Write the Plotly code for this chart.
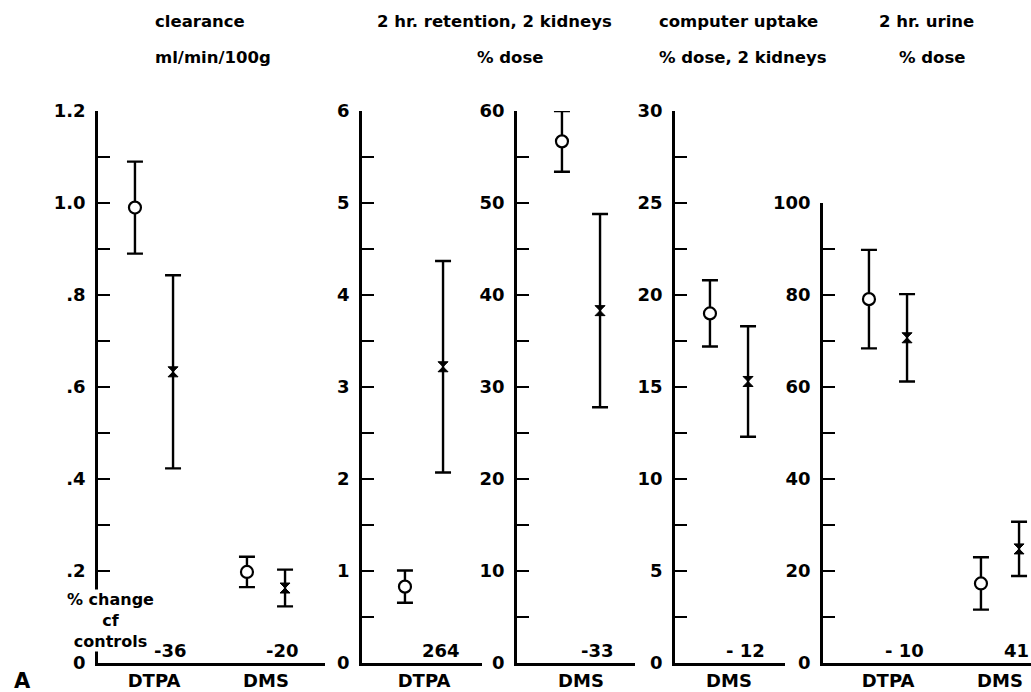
import plotly.graph_objects as go

W, H = 1031, 692

# ---------------- data ----------------
# Panel 1: clearance ml/min/100g
p1_groups = ["DTPA", "DMS"]
p1_ctrl = [0.99, 0.198]
p1_ctrl_err = [0.10, 0.033]
p1_trt = [0.633, 0.163]
p1_trt_err = [0.21, 0.04]
p1_change = ["-36", "-20"]

# Panel 2: 2 hr retention, 2 kidneys (% dose) - DTPA
p2_groups = ["DTPA"]
p2_ctrl = [0.83]
p2_ctrl_err = [0.175]
p2_trt = [3.22]
p2_trt_err = [1.15]
p2_change = ["264"]

# Panel 3: 2 hr retention, 2 kidneys (% dose) - DMS
p3_groups = ["DMS"]
p3_ctrl = [56.7]
p3_ctrl_err = [3.3]
p3_trt = [38.3]
p3_trt_err = [10.5]
p3_change = ["-33"]

# Panel 4: computer uptake, % dose, 2 kidneys - DMS
p4_groups = ["DMS"]
p4_ctrl = [19.0]
p4_ctrl_err = [1.8]
p4_trt = [15.3]
p4_trt_err = [3.0]
p4_change = ["- 12"]

# Panel 5: 2 hr urine % dose
p5_groups = ["DTPA", "DMS"]
p5_ctrl = [79.1, 17.3]
p5_ctrl_err = [10.7, 5.7]
p5_trt = [70.7, 24.8]
p5_trt_err = [9.5, 5.9]
p5_change = ["- 10", "41"]

# y-axis ticks
p1_ticks = [round(i * 0.1, 1) for i in range(13)]
p1_ticklabels = ["0", "", ".2", "", ".4", "", ".6", "", ".8", "", "1.0", "", "1.2"]
p2_ticks = [i * 0.5 for i in range(13)]
p2_ticklabels = ["0", "", "1", "", "2", "", "3", "", "4", "", "5", "", "6"]
p3_ticks = [i * 5 for i in range(13)]
p3_ticklabels = ["0", "", "10", "", "20", "", "30", "", "40", "", "50", "", "60"]
p4_ticks = [i * 2.5 for i in range(13)]
p4_ticklabels = ["0", "", "5", "", "10", "", "15", "", "20", "", "25", "", "30"]
p5_ticks = [i * 10 for i in range(11)]
p5_ticklabels = ["0", "", "20", "", "40", "", "60", "", "80", "", "100"]

# ---------------- layout geometry (pixels) ----------------
UNIT = 112.0   # px per group step
OFF = 0.17     # offset of control / treated marks from group centre
panels = [
    dict(groups=p1_groups, ctrl=p1_ctrl, ce=p1_ctrl_err, trt=p1_trt, te=p1_trt_err, change=p1_change,
         ticks=p1_ticks, labels=p1_ticklabels, yr=[0, 1.2], px=(98, 325), c0=154, top=111),
    dict(groups=p2_groups, ctrl=p2_ctrl, ce=p2_ctrl_err, trt=p2_trt, te=p2_trt_err, change=p2_change,
         ticks=p2_ticks, labels=p2_ticklabels, yr=[0, 6], px=(362, 482), c0=424, top=111),
    dict(groups=p3_groups, ctrl=p3_ctrl, ce=p3_ctrl_err, trt=p3_trt, te=p3_trt_err, change=p3_change,
         ticks=p3_ticks, labels=p3_ticklabels, yr=[0, 60], px=(517, 635), c0=581, top=111),
    dict(groups=p4_groups, ctrl=p4_ctrl, ce=p4_ctrl_err, trt=p4_trt, te=p4_trt_err, change=p4_change,
         ticks=p4_ticks, labels=p4_ticklabels, yr=[0, 30], px=(675, 785), c0=729, top=111),
    dict(groups=p5_groups, ctrl=p5_ctrl, ce=p5_ctrl_err, trt=p5_trt, te=p5_trt_err, change=p5_change,
         ticks=p5_ticks, labels=p5_ticklabels, yr=[0, 100], px=(823, 1031), c0=888, top=203),
]
BOTTOM = 663

FONT = "DejaVu Sans"
fig = go.Figure()
layout = dict(width=W, height=H, margin=dict(l=0, r=0, t=0, b=0, autoexpand=False),
              paper_bgcolor="white", plot_bgcolor="white", showlegend=False,
              font=dict(family=FONT, size=18, color="black", weight="bold"))
annotations = []

for k, p in enumerate(panels, start=1):
    xs = "" if k == 1 else str(k)
    xname, yname = "x" + xs, "y" + xs
    idx = list(range(len(p["groups"])))
    xc = [i - OFF for i in idx]
    xt = [i + OFF for i in idx]
    fig.add_trace(go.Scatter(
        x=xc, y=p["ctrl"], mode="markers", xaxis=xname, yaxis=yname, cliponaxis=False,
        marker=dict(symbol="circle", size=12, color="white", line=dict(color="black", width=2.2)),
        error_y=dict(type="data", array=p["ce"], color="black", thickness=2.4, width=8)))
    fig.add_trace(go.Scatter(
        x=xt, y=p["trt"], mode="markers", xaxis=xname, yaxis=yname, cliponaxis=False,
        marker=dict(symbol="hourglass", size=10, color="black", line=dict(color="black", width=1)),
        error_y=dict(type="data", array=p["te"], color="black", thickness=2.4, width=8)))

    x0, x1 = p["px"]
    xr = [-(p["c0"] - x0) / UNIT, (x1 - p["c0"]) / UNIT]
    layout["xaxis" + xs] = dict(
        domain=[x0 / W, x1 / W], range=xr, anchor=yname,
        showline=True, linecolor="black", linewidth=2.6, ticks="",
        tickvals=idx, ticktext=p["groups"], showgrid=False, zeroline=False,
        ticklabelstandoff=0,
        tickfont=dict(size=18, family=FONT, weight="bold"))
    layout["yaxis" + xs] = dict(
        domain=[1 - BOTTOM / H, 1 - p["top"] / H], range=p["yr"], anchor=xname,
        showline=True, linecolor="black", linewidth=2.6,
        ticks="inside", ticklen=12, tickwidth=2.4, tickcolor="black",
        tickvals=p["ticks"], ticktext=p["labels"], showgrid=False, zeroline=False,
        ticklabelstandoff=6, tickfont=dict(size=18, family=FONT, weight="bold"))

    for i, txt in zip(idx, p["change"]):
        annotations.append(dict(x=i + 0.15, xref=xname, y=1 - 650 / H, yref="paper",
                                text=txt, showarrow=False, xanchor="center", yanchor="middle",
                                font=dict(size=18, family=FONT, weight="bold")))

# titles
def title(text, x, y, anchor):
    annotations.append(dict(x=x / W, y=1 - y / H, xref="paper", yref="paper", text=text,
                            showarrow=False, xanchor=anchor, yanchor="middle",
                            font=dict(size=16.5, family=FONT, weight="bold")))

title("clearance", 153, 22, "left")
title("ml/min/100g", 153, 57, "left")
title("2 hr. retention, 2 kidneys", 494, 22, "center")
title("% dose", 510, 57, "center")
title("computer uptake", 657, 22, "left")
title("% dose, 2 kidneys", 657, 57, "left")
title("2 hr. urine", 926, 22, "center")
title("% dose", 932, 57, "center")

# "% change cf controls" label (its white box covers the axis line, as in the original)
annotations.append(dict(x=110 / W, y=1 - 620 / H, xref="paper", yref="paper",
                        text="% change<br>cf<br>controls", align="center",
                        showarrow=False, xanchor="center", yanchor="middle", bgcolor="white",
                        borderpad=0,
                        font=dict(size=16, family=FONT, weight="bold")))

annotations.append(dict(x=22 / W, y=1 - 681 / H, xref="paper", yref="paper", text="A",
                        showarrow=False, xanchor="center", yanchor="middle",
                        font=dict(size=21, family=FONT, weight=900)))

layout["annotations"] = annotations
fig.update_layout(**layout)
fig.write_html("out.html", config={"displayModeBar": False},
               post_script="document.body.style.margin='0px';document.body.style.overflow='hidden';")
